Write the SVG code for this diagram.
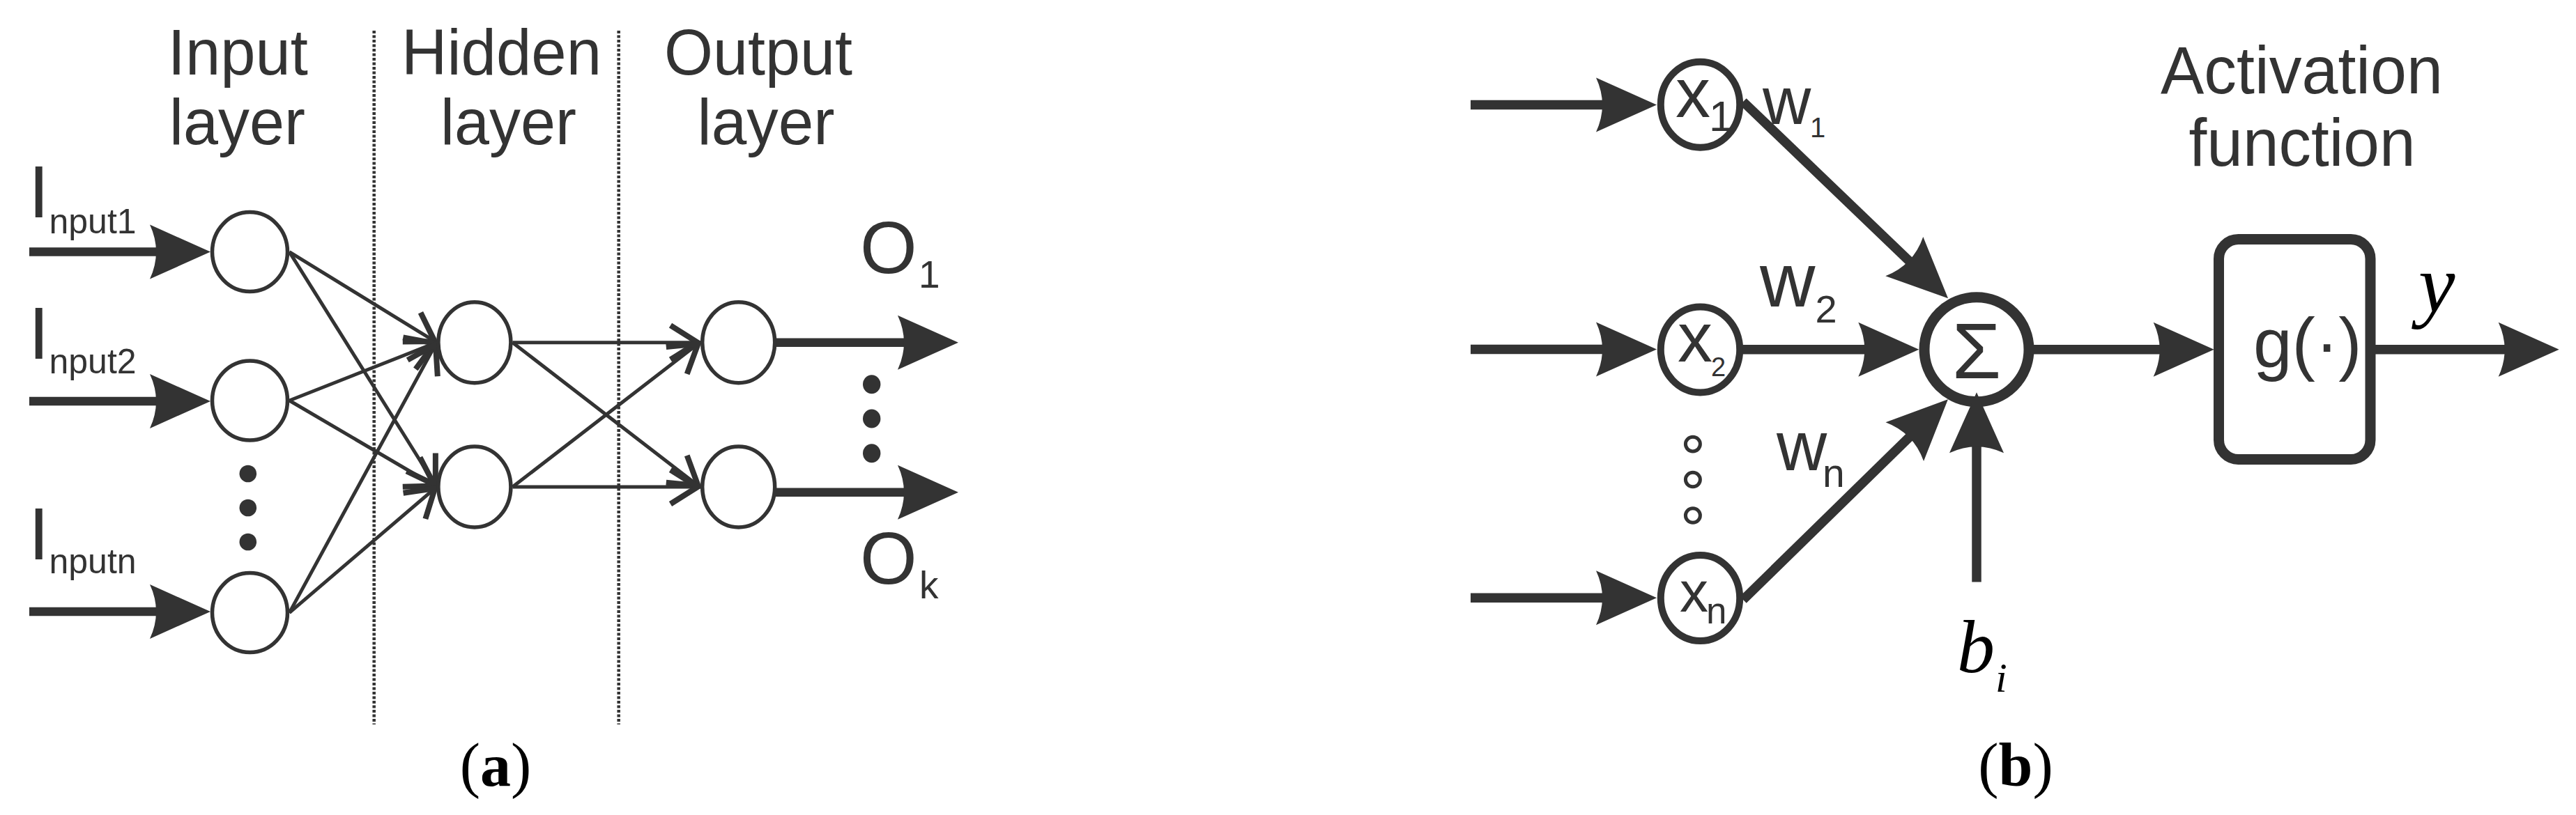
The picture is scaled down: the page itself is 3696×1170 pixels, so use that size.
<svg xmlns="http://www.w3.org/2000/svg" width="3696" height="1170" viewBox="0 0 3696 1170">
<defs>
<style>
.sans{font-family:"Liberation Sans",Arial,Helvetica,sans-serif;fill:#333}
.serif{font-family:"Liberation Serif","Times New Roman",serif;fill:#000}
.na{fill:#fff;stroke:#333;stroke-width:5.5}
.nb{fill:#fff;stroke:#333;stroke-width:10}
.thin{stroke:#333;stroke-width:5;fill:none;marker-end:url(#oa)}
.thick{stroke:#333;stroke-width:12.5;fill:none;marker-end:url(#fa)}
.thickb{stroke:#333;stroke-width:13.5;fill:none;marker-end:url(#fa)}
.div{stroke:#333;stroke-width:4.5;stroke-dasharray:4 2.5;fill:none}
.dot{fill:#333}
.ring{fill:none;stroke:#333;stroke-width:5}
</style>
<marker id="oa" markerUnits="userSpaceOnUse" orient="auto" overflow="visible" markerWidth="1" markerHeight="1" refX="0" refY="0">
<path d="M-42,-24.5 L-3,0 L-42,24.5" fill="none" stroke="#333" stroke-width="8"/>
</marker>
<marker id="fa" markerUnits="userSpaceOnUse" orient="auto" overflow="visible" markerWidth="1" markerHeight="1" refX="0" refY="0">
<path d="M72,0 L-15,-39 Q3,0 -15,39 Z" fill="#333"/>
</marker>
</defs>
<rect width="3696" height="1170" fill="#fff"/>

<!-- Panel (a) -->
<g id="layer-dividers">
<line class="div" x1="536.7" y1="44" x2="536.7" y2="1040"/>
<line class="div" x1="887.7" y1="44" x2="887.7" y2="1040"/>
</g>
<g id="headers-a">
<text class="sans" font-size="92" x="240.8" y="107.3" textLength="201" lengthAdjust="spacingAndGlyphs">Input</text>
<text class="sans" font-size="92" x="243" y="206.7" textLength="195" lengthAdjust="spacingAndGlyphs">layer</text>
<text class="sans" font-size="92" x="576" y="107.3" textLength="287" lengthAdjust="spacingAndGlyphs">Hidden</text>
<text class="sans" font-size="92" x="632" y="206.7" textLength="195" lengthAdjust="spacingAndGlyphs">layer</text>
<text class="sans" font-size="92" x="953" y="107.3" textLength="270" lengthAdjust="spacingAndGlyphs">Output</text>
<text class="sans" font-size="92" x="1000.5" y="206.7" textLength="197" lengthAdjust="spacingAndGlyphs">layer</text>
</g>
<g id="input-labels">
<text class="sans"><tspan font-size="106" x="41" y="311.6">I</tspan><tspan font-size="50" x="70.5" y="334.8">nput1</tspan></text>
<text class="sans"><tspan font-size="106" x="41" y="514.7">I</tspan><tspan font-size="50" x="70.5" y="535.7">nput2</tspan></text>
<text class="sans"><tspan font-size="106" x="41" y="802.7">I</tspan><tspan font-size="50" x="70.5" y="822.8">nputn</tspan></text>
</g>
<g id="output-labels">
<text class="sans"><tspan font-size="105" x="1234" y="392">O</tspan><tspan font-size="55" x="1318" y="413.3">1</tspan></text>
<text class="sans"><tspan font-size="105" x="1234" y="838">O</tspan><tspan font-size="55" x="1319" y="859">k</tspan></text>
</g>
<g id="connectors-a">
<line class="thick" x1="42" y1="361.6" x2="230" y2="361.6"/>
<line class="thick" x1="42" y1="576" x2="230" y2="576"/>
<line class="thick" x1="42" y1="878" x2="230" y2="878"/>
<line class="thin" x1="415.2" y1="361.6" x2="626.4" y2="491.7"/>
<line class="thin" x1="415.2" y1="361.6" x2="626.4" y2="699"/>
<line class="thin" x1="415.2" y1="575" x2="626.4" y2="491.7"/>
<line class="thin" x1="415.2" y1="575" x2="626.4" y2="699"/>
<line class="thin" x1="415.2" y1="879.6" x2="626.4" y2="491.7"/>
<line class="thin" x1="415.2" y1="879.6" x2="626.4" y2="699"/>
<line class="thin" x1="735.4" y1="491.7" x2="1004" y2="491.7"/>
<line class="thin" x1="735.4" y1="491.7" x2="1004" y2="699"/>
<line class="thin" x1="735.4" y1="699" x2="1004" y2="491.7"/>
<line class="thin" x1="735.4" y1="699" x2="1004" y2="699"/>
<line class="thick" x1="1112" y1="491.7" x2="1303" y2="491.7"/>
<line class="thick" x1="1112" y1="706.7" x2="1303" y2="706.7"/>
</g>
<g id="input-1"><ellipse class="na" cx="358.5" cy="361.6" rx="54" ry="57"/></g>
<g id="input-2"><ellipse class="na" cx="358.5" cy="575" rx="54" ry="57"/></g>
<g id="input-n"><ellipse class="na" cx="358.5" cy="879.6" rx="54" ry="57"/></g>
<g id="input-ellipsis">
<circle class="dot" cx="355.8" cy="680" r="12.3"/>
<circle class="dot" cx="355.8" cy="729" r="12.3"/>
<circle class="dot" cx="355.8" cy="778" r="12.3"/>
</g>
<g id="hidden-1"><ellipse class="na" cx="680.9" cy="491.7" rx="52" ry="58"/></g>
<g id="hidden-2"><ellipse class="na" cx="680.9" cy="699" rx="52" ry="58"/></g>
<g id="output-1"><ellipse class="na" cx="1059.7" cy="491.7" rx="52" ry="58"/></g>
<g id="output-k"><ellipse class="na" cx="1059.7" cy="699" rx="52" ry="58"/></g>
<g id="output-ellipsis">
<ellipse class="dot" cx="1250.7" cy="551.7" rx="12.7" ry="13.5"/>
<ellipse class="dot" cx="1250.7" cy="601" rx="12.7" ry="13.5"/>
<ellipse class="dot" cx="1250.7" cy="650.7" rx="12.7" ry="13.5"/>
</g>
<text class="serif" font-size="88" x="711" y="1128" text-anchor="middle">(<tspan font-weight="bold">a</tspan>)</text>

<!-- Panel (b) -->
<g id="x1"><ellipse class="nb" cx="2439.5" cy="150.2" rx="56.7" ry="61.5"/>
<text class="sans"><tspan font-size="100" x="2404" y="167.6">x</tspan><tspan font-size="62" x="2452" y="187.5">1</tspan></text></g>
<g id="x2"><ellipse class="nb" cx="2439.5" cy="501.9" rx="56.7" ry="61.5"/>
<text class="sans"><tspan font-size="100" x="2407" y="518.6">x</tspan><tspan font-size="38" x="2455" y="539.6">2</tspan></text></g>
<g id="xn"><ellipse class="nb" cx="2439.5" cy="858.5" rx="56.7" ry="61.5"/>
<text class="sans"><tspan font-size="82" x="2410" y="878.2">x</tspan><tspan font-size="53" x="2448" y="895.3">n</tspan></text></g>
<g id="x-ellipsis">
<ellipse class="ring" cx="2428.9" cy="637.6" rx="10.5" ry="10.3"/>
<ellipse class="ring" cx="2428.9" cy="688.5" rx="10.5" ry="10.3"/>
<ellipse class="ring" cx="2428.9" cy="740" rx="10.5" ry="10.3"/>
</g>
<g id="sum"><circle cx="2836" cy="501.7" r="75" fill="#fff" stroke="#333" stroke-width="15"/>
<text class="sans" font-size="114" x="2836" y="543" text-anchor="middle">Σ</text></g>
<g id="activation"><rect x="3183.5" y="343.5" width="217.5" height="316" rx="28" fill="#fff" stroke="#333" stroke-width="15"/>
<text class="sans" font-size="100" x="3233" y="527">g(·)</text></g>
<g id="activation-label">
<text class="sans" font-size="96" x="3100" y="133.8" textLength="405" lengthAdjust="spacingAndGlyphs">Activation</text>
<text class="sans" font-size="96" x="3140.5" y="238.3" textLength="325" lengthAdjust="spacingAndGlyphs">function</text>
</g>
<g id="connectors-b">
<line class="thickb" x1="2110" y1="150.6" x2="2305" y2="150.6"/>
<line class="thickb" x1="2110" y1="501.5" x2="2305" y2="501.5"/>
<line class="thickb" x1="2110" y1="858.3" x2="2305" y2="858.3"/>
<line class="thickb" x1="2501" y1="146" x2="2743.1" y2="378.4"/>
<line class="thickb" x1="2500.6" y1="501.7" x2="2681.3" y2="501.7"/>
<line class="thickb" x1="2501" y1="861" x2="2743.5" y2="623.6"/>
<line class="thickb" x1="2836" y1="835.5" x2="2836" y2="635.3"/>
<line class="thickb" x1="2911" y1="501.7" x2="3104.7" y2="501.7"/>
<line class="thickb" x1="3408" y1="501.7" x2="3599.7" y2="501.7"/>
</g>
<g id="weight-labels">
<text class="sans"><tspan font-size="96" x="2529" y="178">w</tspan><tspan font-size="40" x="2597" y="197">1</tspan></text>
<text class="sans"><tspan font-size="110" x="2525" y="440">w</tspan><tspan font-size="56" x="2604.6" y="463">2</tspan></text>
<text class="sans"><tspan font-size="100" x="2549" y="675.2">w</tspan><tspan font-size="57" x="2615" y="698.7">n</tspan></text>
</g>
<g id="math-labels">
<text class="serif" font-style="italic" font-size="118" x="3470" y="448">y</text>
<text class="serif" font-style="italic"><tspan font-size="108" x="2808" y="964.6">b</tspan><tspan font-size="60" x="2863" y="993">i</tspan></text>
</g>
<text class="serif" font-size="88" x="2892" y="1128" text-anchor="middle">(<tspan font-weight="bold">b</tspan>)</text>
</svg>
